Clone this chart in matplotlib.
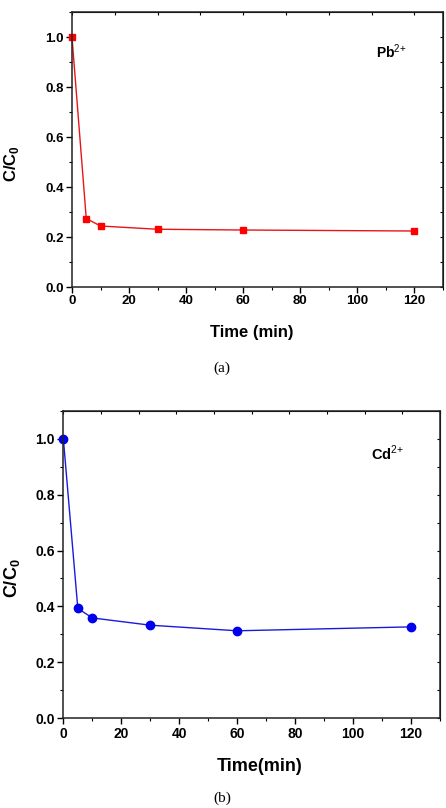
import numpy as np
import matplotlib
matplotlib.use('Agg')
import matplotlib.pyplot as plt
from matplotlib.ticker import MultipleLocator

plt.rcParams['font.family'] = ['Liberation Sans', 'DejaVu Sans']
plt.rcParams['mathtext.fontset'] = 'custom'
plt.rcParams['mathtext.rm'] = 'Liberation Sans'
plt.rcParams['mathtext.bf'] = 'Liberation Sans:bold'

# sampling times and normalised concentrations
time_pb = [0, 5, 10, 30, 60, 120]
conc_pb = [1.0, 0.274, 0.244, 0.231, 0.228, 0.224]

time_cd = [0, 5, 10, 30, 60, 120]
conc_cd = [1.0, 0.393, 0.359, 0.333, 0.313, 0.327]

x_ticks = [0, 20, 40, 60, 80, 100, 120]
y_ticks = [0.0, 0.2, 0.4, 0.6, 0.8, 1.0]


def style_axes(ax, top_step, lsize):
    ax.set_xlim(0, 130)
    ax.set_ylim(0, 1.1)
    ax.set_xticks(x_ticks)
    ax.set_yticks(y_ticks)
    ax.set_yticklabels(['%.1f' % v for v in y_ticks])
    ax.xaxis.set_minor_locator(MultipleLocator(10))
    ax.yaxis.set_minor_locator(MultipleLocator(0.1))
    ax.tick_params(which='major', direction='out', length=4, width=1.0,
                   labelsize=lsize, pad=2)
    ax.tick_params(which='minor', direction='out', length=2.5, width=0.8)
    for lab in ax.get_xticklabels() + ax.get_yticklabels():
        lab.set_fontweight('bold')
    for sp in ax.spines.values():
        sp.set_linewidth(1.1)
        sp.set_color('#222222')
    # tiny inward ticks on the top and right spines
    top = ax.secondary_xaxis('top')
    top.set_xticks(np.arange(0, 131, top_step))
    top.tick_params(direction='in', length=2, width=0.8, labeltop=False)
    right = ax.secondary_yaxis('right')
    right.set_yticks(np.arange(0, 1.11, 0.1))
    right.tick_params(direction='in', length=2, width=0.8, labelright=False)


fig = plt.figure(figsize=(4.46, 8.08), dpi=100)

# (a) Pb
ax1 = fig.add_axes([0.1614, 0.6448, 0.8318, 0.3403])
ax1.plot(time_pb, conc_pb, color='#e8141a', lw=1.0, marker='s', ms=5,
         markerfacecolor='#ff0000', markeredgecolor='#ff0000', clip_on=False)
style_axes(ax1, 15, 9.5)
ax1.set_xlabel('Time (min)', fontsize=12, fontweight='bold')
ax1.set_ylabel('C/C$_\\mathbf{0}$', fontsize=12, fontweight='bold')
ax1.xaxis.label.set_va('center')
ax1.yaxis.label.set_va('center')
ax1.xaxis.set_label_coords(0.485, -0.164)
ax1.yaxis.set_label_coords(-0.162, 0.45)
ax1.text(0.86, 0.855, 'Pb$^{\\mathrm{2{+}}}$', transform=ax1.transAxes,
         fontsize=10, fontweight='bold', ha='center', va='center')

# (b) Cd
ax2 = fig.add_axes([0.142, 0.111, 0.8446, 0.3807])
ax2.plot(time_cd, conc_cd, color='#1a1adc', lw=1.0, marker='o', ms=6,
         markerfacecolor='#0000ee', markeredgecolor='#0000ee', clip_on=False)
style_axes(ax2, 13, 10)
ax2.set_xlabel('Time(min)', fontsize=13, fontweight='bold')
ax2.set_ylabel('C/C$_\\mathbf{0}$', fontsize=13, fontweight='bold')
ax2.xaxis.label.set_va('center')
ax2.yaxis.label.set_va('center')
ax2.xaxis.set_label_coords(0.522, -0.158)
ax2.yaxis.set_label_coords(-0.135, 0.456)
ax2.text(0.86, 0.86, 'Cd$^{\\mathrm{2{+}}}$', transform=ax2.transAxes,
         fontsize=10.5, fontweight='bold', ha='center', va='center')

fig.text(222 / 446, 1 - 368 / 808, '(a)', family='Liberation Serif',
         fontsize=11, ha='center', va='center')
fig.text(222 / 446, 1 - 798 / 808, '(b)', family='Liberation Serif',
         fontsize=11, ha='center', va='center')

fig.savefig('out.png', dpi=100)
